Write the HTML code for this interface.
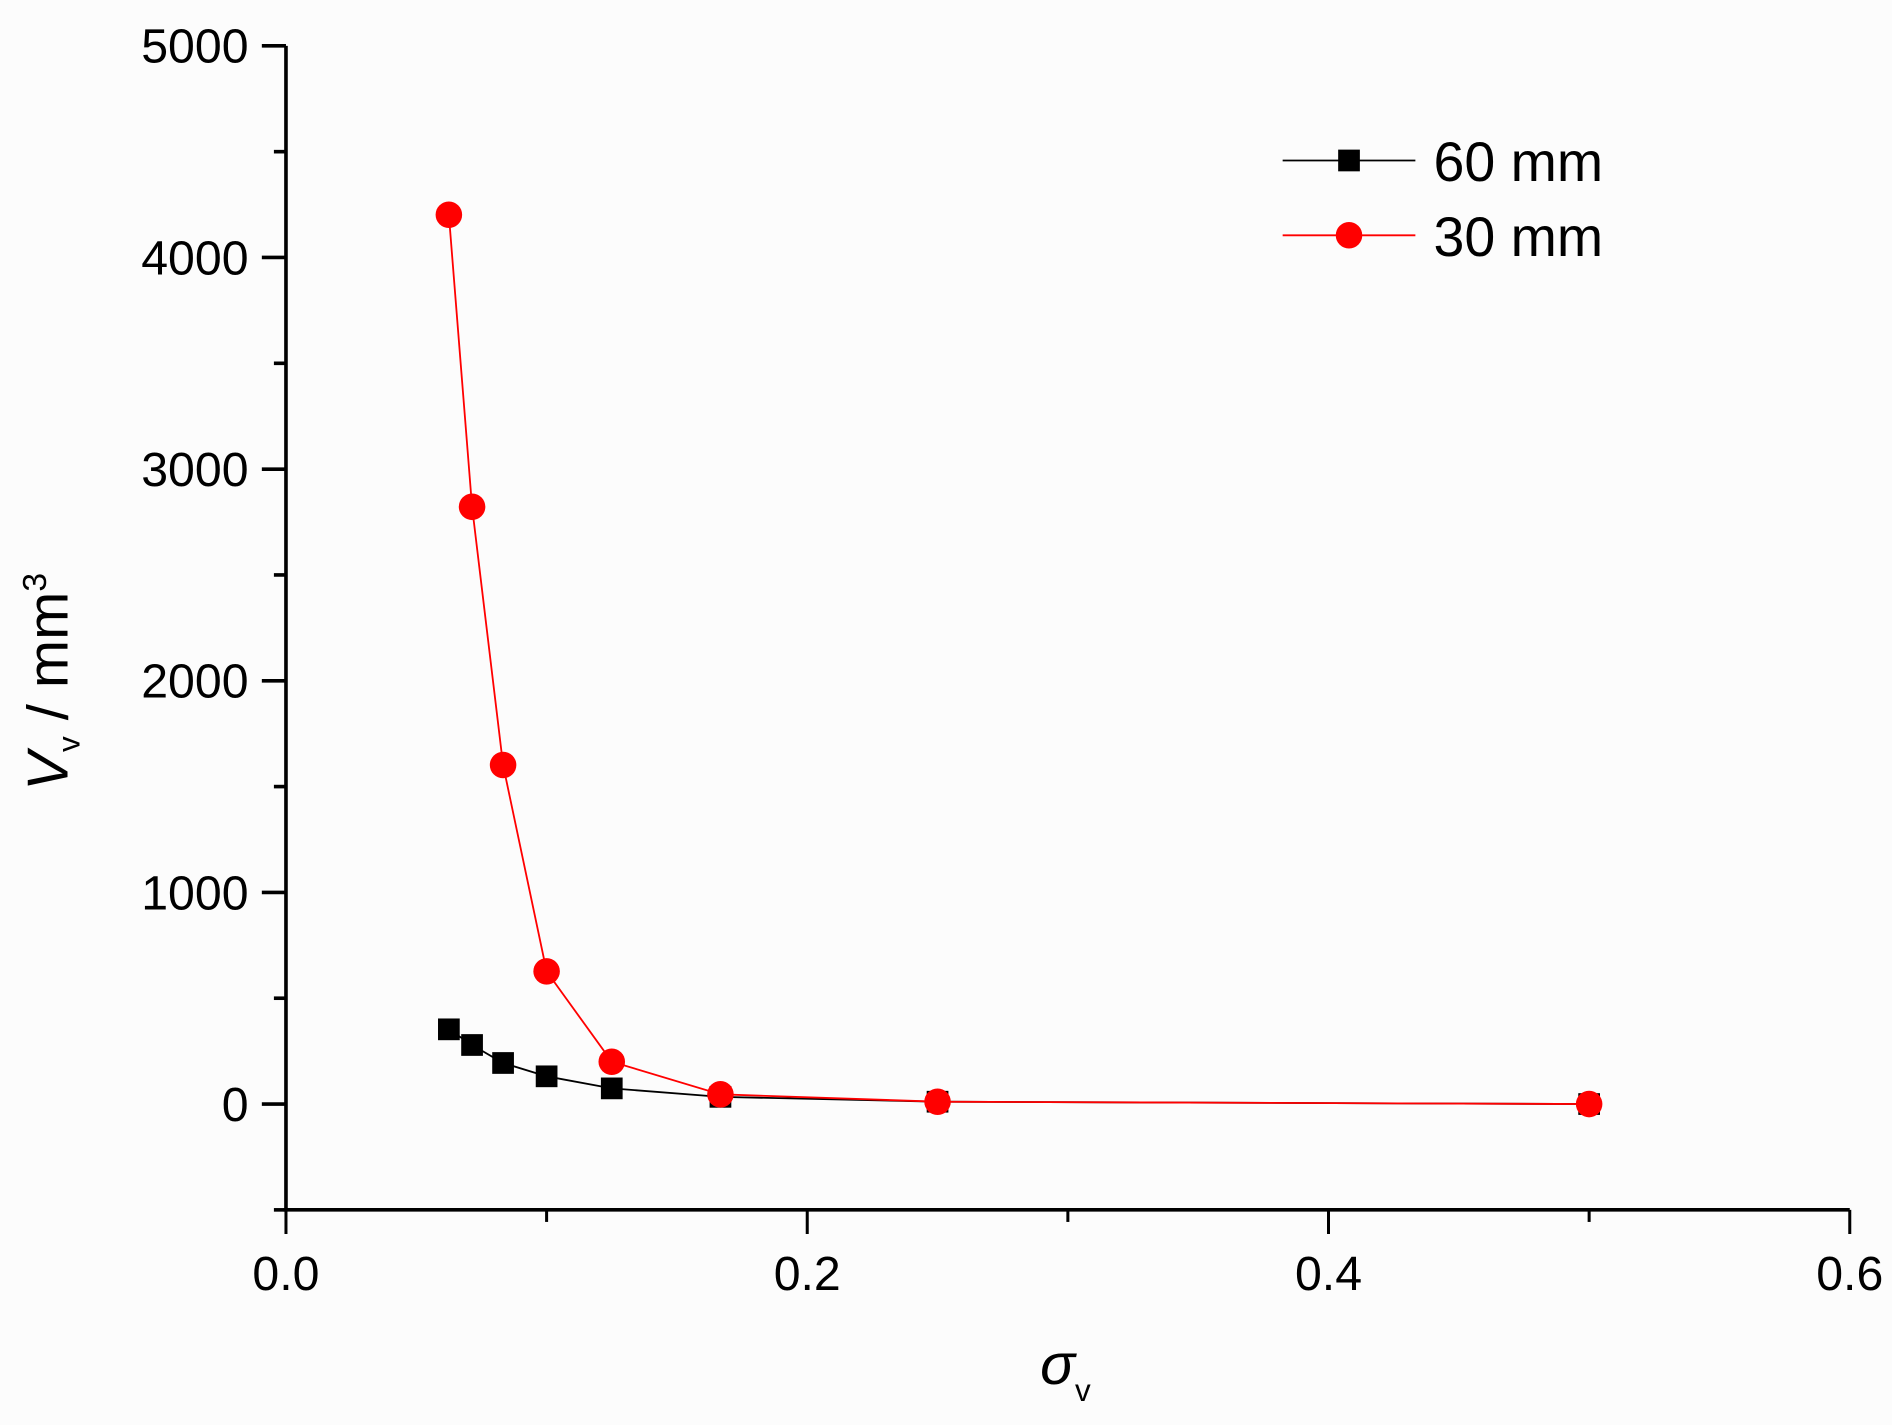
<!DOCTYPE html>
<html><head><meta charset="utf-8"><style>
html,body{margin:0;padding:0;background:#fcfcfc;}
svg{display:block;font-family:"Liberation Sans",sans-serif;}
</style></head><body>
<svg id="chart" width="1892" height="1425" viewBox="0 0 1568 1181" preserveAspectRatio="none" xmlns="http://www.w3.org/2000/svg">
<rect width="1568" height="1181" fill="#fcfcfc"/>
<g id="axes"></g>
<g id="series"></g>
<text x="56" y="565" font-size="48" transform="rotate(-90 56 565)" text-anchor="middle"><tspan font-style="italic">V</tspan><tspan font-size="26" dy="10">v</tspan><tspan dy="-10"> / mm</tspan><tspan font-size="28" dy="-18">3</tspan></text>
<text x="862" y="1147" font-size="48" font-style="italic">σ<tspan font-size="26" font-style="normal" dy="14">v</tspan></text>
<g>
<line x1="1063" y1="133" x2="1173" y2="133" stroke="#000" stroke-width="1.5"/>
<rect x="1109" y="124" width="18" height="18" fill="#000"/>
<text x="1188" y="150" font-size="46">60 mm</text>
<line x1="1063" y1="195" x2="1173" y2="195" stroke="#f00" stroke-width="1.5"/>
<circle cx="1118" cy="195" r="11" fill="#f00"/>
<text x="1188" y="212" font-size="46">30 mm</text>
</g>
</svg>
<script>
const xs = [0.0625, 0.0714, 0.0833, 0.1, 0.125, 0.1667, 0.25, 0.5];
const v60 = [353, 279, 194, 131, 74, 34, 11, 0];
const v30 = [4202, 2822, 1602, 627, 200, 46, 11, 0];
const yTicks = ["0","1000","2000","3000","4000","5000"];
const xTicks = ["0.0","0.2","0.4","0.6"];
const NS="http://www.w3.org/2000/svg";
function X(v){return 237+(v/0.6)*1296;}
function Y(v){return 915-(v/1000)*175.4;}
function mk(t,a,p){const e=document.createElementNS(NS,t);for(const k in a)e.setAttribute(k,a[k]);p.appendChild(e);return e;}
const ax=document.getElementById('axes');
const yl=mk('line',{x1:237,y1:Y(5000),x2:237,y2:Y(-500),stroke:'#000','stroke-width':3},ax);


const xl=mk('line',{x1:235,y1:Y(-500),x2:X(0.6),y2:Y(-500),stroke:'#000','stroke-width':3},ax);


for(let v=-500;v<=5000;v+=500){
  const major=v%1000===0;
  mk('line',{x1:237-(major?20:10),y1:Y(v),x2:237,y2:Y(v),stroke:'#000','stroke-width':3},ax);
}
yTicks.forEach(s=>{
  const t=mk('text',{x:206,y:Y(+s)+14,'font-size':40,'text-anchor':'end'},ax);
  t.textContent=s;
  
  
});
for(let i=0;i<=6;i++){
  const v=i*0.1, major=i%2===0;
  mk('line',{x1:X(v),y1:Y(-500),x2:X(v),y2:Y(-500)+(major?20:10),stroke:'#000','stroke-width':2.5},ax);
}
xTicks.forEach(s=>{
  const t=mk('text',{x:X(+s),y:1069,'font-size':40,'text-anchor':'middle'},ax);
  t.textContent=s;
  
  
});
const sg=document.getElementById('series');
function line(vals,color){
  const p=mk('polyline',{points:xs.map((x,i)=>X(x)+','+Y(vals[i])).join(' '),fill:'none',stroke:color,'stroke-width':1.5},sg);
  return p;
}
const l60=line(v60,'#000');


xs.forEach((x,i)=>{
  const r=mk('rect',{x:X(x)-9,y:Y(v60[i])-9,width:18,height:18,fill:'#000'},sg);
  
  
});
const l30=line(v30,'#f00');


xs.forEach((x,i)=>{
  const c=mk('circle',{cx:X(x),cy:Y(v30[i]),r:11,fill:'#f00'},sg);
  
  
});
</script>
</body></html>
